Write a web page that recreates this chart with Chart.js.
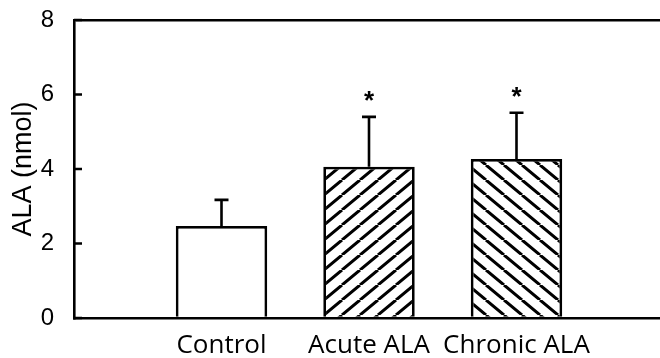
<!DOCTYPE html>
<html><head><meta charset="utf-8">
<script src="https://cdn.jsdelivr.net/npm/chart.js@4/dist/chart.umd.min.js"></script>
<style>html,body{margin:0;padding:0;overflow:hidden;background:#fff;width:660px;height:358px}canvas{display:block}</style>
</head><body><canvas id="c" width="664" height="358"></canvas>
<script>
const categories = ['', 'Control', 'Acute ALA', 'Chronic ALA', ''];
const means = [null, 2.47, 4.06, 4.27, null];
const errors = [null, 0.70, 1.34, 1.24, null];
const marks = ['', '', '*', '*', ''];
const yTicks = [0, 2, 4, 6, 8];
const yTitle = 'ALA (nmol)';

function makeHatch(dir) {
  const w = 18, h = 15;
  const c = document.createElement('canvas');
  c.width = w; c.height = h;
  const g = c.getContext('2d');
  g.fillStyle = '#fff'; g.fillRect(0, 0, w, h);
  g.strokeStyle = '#000'; g.lineWidth = 3;
  g.beginPath();
  for (let k = -1; k <= 1; k++) {
    if (dir === '/') { g.moveTo(k * w, h); g.lineTo(k * w + w, 0); }
    else { g.moveTo(k * w, 0); g.lineTo(k * w + w, h); }
  }
  g.stroke();
  return g.createPattern(c, 'repeat');
}
const fills = ['#fff', '#fff', makeHatch('/'), makeHatch('\\'), '#fff'];

const extras = {
  id: 'extras',
  afterDatasetsDraw(chart) {
    const ctx = chart.ctx, ys = chart.scales.y;
    const meta = chart.getDatasetMeta(0);
    ctx.save();
    ctx.strokeStyle = '#000'; ctx.lineWidth = 2.6; ctx.fillStyle = '#000';
    meta.data.forEach((el, i) => {
      if (errors[i] == null || means[i] == null) return;
      const x = el.x, top = ys.getPixelForValue(means[i]);
      const et = ys.getPixelForValue(means[i] + errors[i]);
      ctx.beginPath();
      ctx.moveTo(x, top); ctx.lineTo(x, et);
      ctx.moveTo(x - 7, et); ctx.lineTo(x + 7, et);
      ctx.stroke();
      if (marks[i]) {
        ctx.font = 'bold 26px "Liberation Sans", Arial';
        ctx.textAlign = 'center'; ctx.textBaseline = 'alphabetic';
        ctx.fillText(marks[i], x, et - 8);
      }
    });
    const a = chart.chartArea;
    ctx.beginPath();
    yTicks.forEach(v => {
      const p = ys.getPixelForValue(v);
      ctx.moveTo(a.left, p); ctx.lineTo(a.left + 8, p);
    });
    ctx.stroke();
    ctx.restore();
  }
};

new Chart(document.getElementById('c'), {
  type: 'bar',
  data: {
    labels: categories,
    datasets: [{
      data: means,
      backgroundColor: fills,
      borderColor: '#000',
      borderWidth: 2.8,
      barPercentage: 0.62,
      categoryPercentage: 1
    }]
  },
  options: {
    responsive: false,
    animation: false,
    devicePixelRatio: 1,
    layout: { padding: { top: 20, left: 0, right: 0, bottom: 0 } },
    plugins: { legend: { display: false }, tooltip: { enabled: false } },
    scales: {
      x: {
        offset: false,
        grid: { display: false, drawTicks: false },
        border: { display: true, color: '#000', width: 2.6 },
        ticks: { color: '#000', font: { family: '"Open Sans"', size: 26 }, padding: 12, maxRotation: 0, autoSkip: false },
        afterFit: s => { s.height = 40; s.paddingLeft = 0; s.paddingRight = 0; }
      },
      y: {
        min: 0, max: 8,
        afterBuildTicks: s => { s.ticks = yTicks.map(v => ({ value: v })); },
        grid: { drawTicks: false, lineWidth: 2.6, color: c => (c.tick && c.tick.value === 8) ? '#000' : 'rgba(0,0,0,0)' },
        border: { display: true, color: '#000', width: 2.6 },
        ticks: { color: '#000', font: { family: '"Liberation Sans", Arial', size: 24 }, padding: 20 },
        title: { display: true, text: yTitle, color: '#000', font: { family: '"Liberation Sans", Arial', size: 27 }, padding: { top: 7, bottom: 0 } },
        afterFit: s => { s.width = 74; s.paddingTop = 0; s.paddingBottom = 0; }
      }
    }
  },
  plugins: [extras]
});
</script>
</body></html>
